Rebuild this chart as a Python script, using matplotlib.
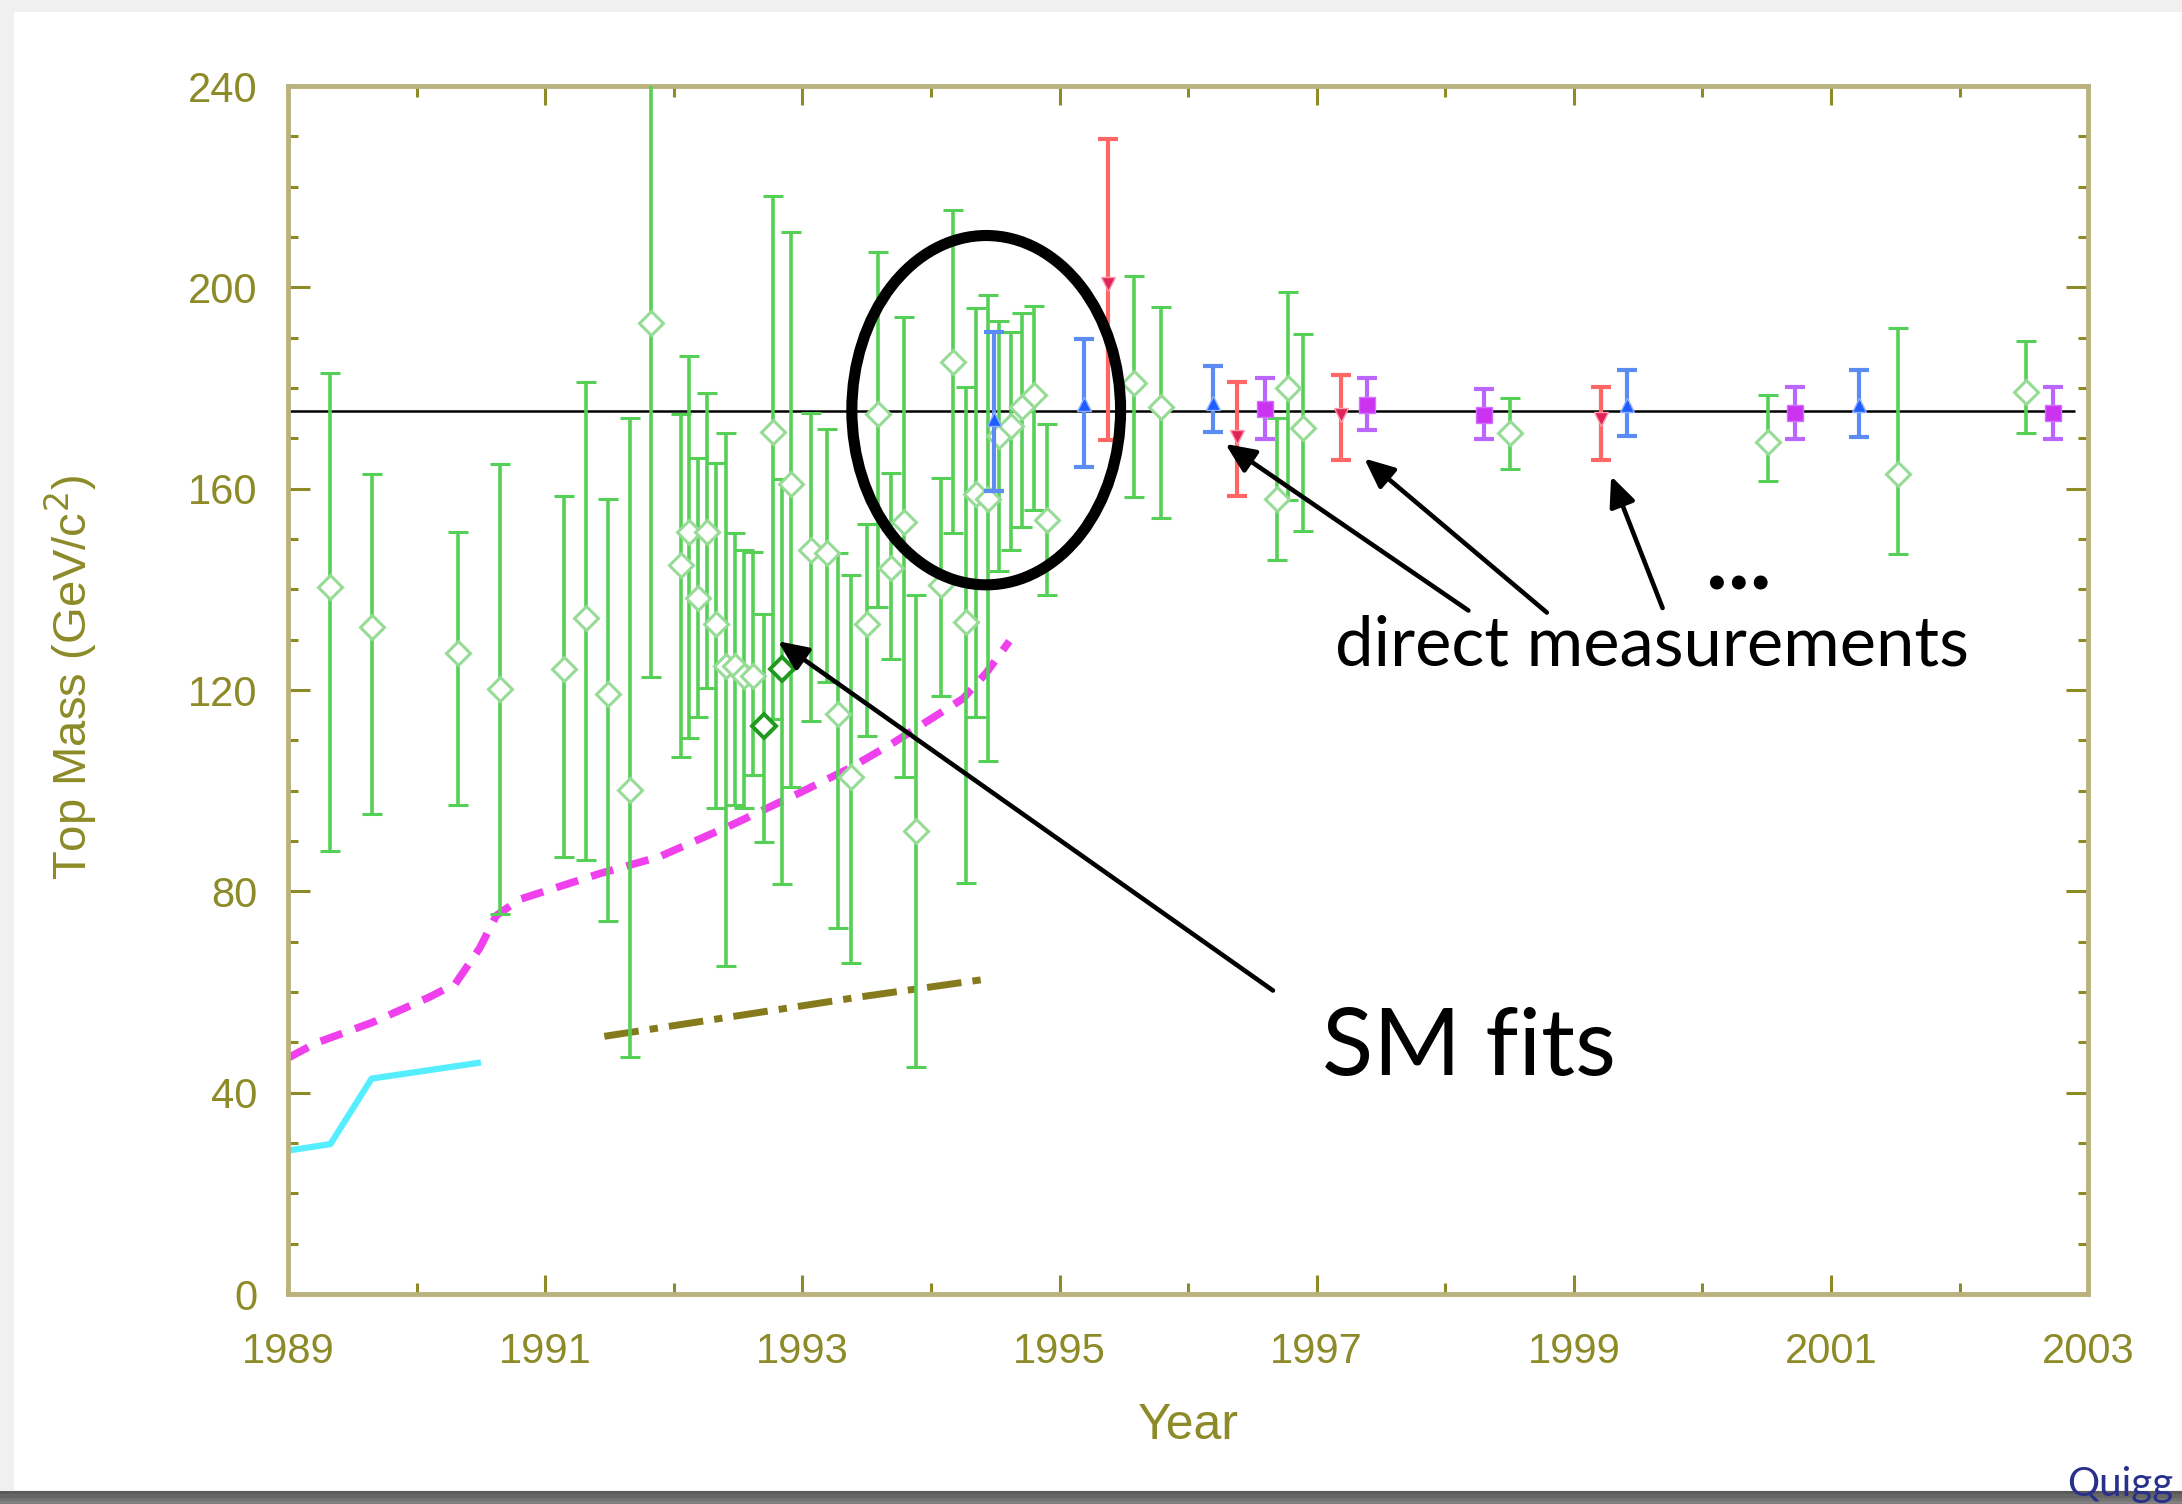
import numpy as np
import matplotlib.pyplot as plt
from matplotlib.patches import Ellipse, Rectangle

# SM fits: year, central value, upper and lower end of the error bar
fit_year = [1989.33, 1989.65, 1990.32, 1990.65, 1991.15, 1991.32, 1991.49, 1991.66,
            1991.82, 1992.06, 1992.12, 1992.19, 1992.26, 1992.33, 1992.41, 1992.48,
            1992.55, 1992.62, 1992.70, 1992.77, 1992.84, 1992.91, 1993.07, 1993.19,
            1993.28, 1993.38, 1993.50, 1993.59, 1993.69, 1993.79, 1993.88, 1994.08,
            1994.17, 1994.27, 1994.35, 1994.44, 1994.53, 1994.62, 1994.71, 1994.80,
            1994.90, 1995.58, 1995.79, 1996.69, 1996.78, 1996.89, 1998.50, 2000.51,
            2001.52, 2002.52]
fit_mass = [140.4, 132.5, 127.4, 120.3, 124.2, 134.4, 119.3, 100.2,
            192.9, 144.9, 151.4, 138.2, 151.4, 133.2, 124.8, 124.8,
            122.8, 122.8, 112.9, 171.3, 124.2, 161.0, 147.9, 147.2,
            115.3, 102.7, 133.2, 174.9, 144.3, 153.3, 91.9, 140.8,
            185.1, 133.6, 159.0, 158.0, 170.5, 172.4, 176.2, 178.7,
            153.7, 181.0, 176.3, 158.0, 180.1, 172.0, 171.1, 169.2,
            163.0, 179.3]
fit_hi = [183.0, 163.0, 151.3, 164.9, 158.5, 181.1, 157.9, 174.1,
          252.0, 174.9, 186.3, 166.1, 179.1, 165.2, 171.1, 151.2,
          147.9, 147.5, 135.1, 218.2, 162.0, 211.0, 175.0, 171.8,
          147.2, 142.8, 152.9, 207.0, 163.2, 194.2, 138.9, 162.2,
          215.3, 180.3, 195.9, 198.5, 193.4, 191.1, 195.0, 196.3,
          172.9, 202.2, 196.1, 174.1, 199.0, 190.8, 178.0, 178.6,
          192.0, 189.4]
fit_lo = [88.1, 95.3, 97.2, 75.6, 86.9, 86.2, 74.1, 47.1,
          122.5, 106.6, 110.4, 114.6, 120.4, 96.5, 65.1, 97.2,
          96.5, 103.1, 89.9, 114.3, 81.5, 100.8, 113.9, 121.6,
          72.8, 65.7, 110.8, 136.5, 126.1, 102.7, 45.1, 118.9,
          151.1, 81.6, 114.7, 105.9, 143.7, 147.9, 152.4, 155.8,
          138.9, 158.3, 154.1, 145.9, 157.8, 151.6, 163.9, 161.6,
          147.1, 171.0]

# two fits drawn with darker markers
hl_year = [1992.70, 1992.84]
hl_mass = [112.9, 124.2]

# direct measurements
blue_year = [1994.49, 1995.19, 1996.19, 1999.41, 2001.22]
blue_mass = [173.9, 176.8, 177.0, 176.7, 176.7]
blue_hi = [191.2, 189.8, 184.4, 183.5, 183.6]
blue_lo = [159.6, 164.3, 171.2, 170.4, 170.3]

red_year = [1995.38, 1996.38, 1997.19, 1999.21]
red_mass = [200.6, 170.3, 174.7, 173.8]
red_hi = [229.4, 181.2, 182.6, 180.3]
red_lo = [169.6, 158.5, 165.8, 165.8]

purple_year = [1996.60, 1997.39, 1998.30, 2000.72, 2002.73]
purple_mass = [175.8, 176.7, 174.7, 175.1, 175.1]
purple_hi = [181.9, 181.9, 179.8, 180.3, 180.3]
purple_lo = [169.8, 171.6, 169.8, 169.9, 169.8]

# lower bounds
cyan_year = [1989.0, 1989.33, 1989.65, 1990.50]
cyan_mass = [28.5, 29.8, 42.8, 46.0]

magenta_year = [1989.0, 1989.22, 1989.66, 1990.10, 1990.30, 1990.49, 1990.62, 1990.80,
                1991.42, 1991.89, 1992.46, 1992.98, 1993.37, 1993.70, 1994.25, 1994.43,
                1994.61]
magenta_mass = [46.9, 49.9, 54.0, 59.0, 61.6, 68.7, 75.2, 78.4,
                83.5, 86.9, 93.3, 99.6, 104.5, 109.4, 118.3, 123.4,
                129.7]

olive_year = [1991.46, 1993.44, 1994.41]
olive_mass = [51.2, 59.0, 62.5]

world_avg = 175.5

OLIVE = '#8d8a28'
FRAME = '#b9b27d'


def bars(ax, yr, m, hi, lo, **kw):
    m = np.array(m)
    err = [m - np.array(lo), np.array(hi) - m]
    ax.errorbar(yr, m, yerr=err, linestyle='none', **kw)


fig = plt.figure(figsize=(21.82, 15.04), dpi=100)
fig.patch.set_facecolor('#f0f0f0')
fig.add_artist(Rectangle((14 / 2182, 14 / 1504), 1 - 14 / 2182, 1 - 26 / 1504,
                         transform=fig.transFigure, facecolor='white',
                         edgecolor='none', zorder=0))
# dark strip at the bottom of the slide, a little lighter towards the edge
for i, c in enumerate(['#5a5a5a', '#666666', '#737373', '#808080']):
    fig.add_artist(Rectangle((0, (13 - 3.5 * (i + 1)) / 1504), 1, 3.6 / 1504,
                             transform=fig.transFigure, facecolor=c,
                             edgecolor='none', zorder=1))

ax = fig.add_axes([0.132, 0.1396, 0.825, 0.8032])
ax.set_facecolor('none')

ax.hlines(world_avg, 1989, 2002.9, color='black', lw=1.8, zorder=2)

ax.plot(cyan_year, cyan_mass, color='#55eeff', lw=4.5, solid_capstyle='butt')
ax.plot(magenta_year, magenta_mass, color='#f040ee', lw=5.5, dashes=(3.0, 1.8))
ax.plot(olive_year, olive_mass, color='#857a1c', lw=5, dashes=(5.0, 1.6, 1.2, 1.6))

bars(ax, fit_year, fit_mass, fit_hi, fit_lo, fmt='D', ms=12, mfc='white',
     mec='#96dc96', mew=2.2, ecolor='#55cf55', elinewidth=2.6, capsize=7,
     capthick=2.6, zorder=3)
ax.plot(hl_year, hl_mass, 'D', ms=12, mfc='white', mec='#1f9a1f', mew=2.8, zorder=4)

bars(ax, blue_year, blue_mass, blue_hi, blue_lo, fmt='^', ms=10, mfc='#1d5cff',
     mec='#8fb0ff', ecolor='#5b8cf4', elinewidth=3, capsize=7, capthick=3, zorder=5)
bars(ax, red_year, red_mass, red_hi, red_lo, fmt='v', ms=10, mfc='#e0245a',
     mec='#ff9aa8', ecolor='#ff6666', elinewidth=3, capsize=7, capthick=3, zorder=5)
bars(ax, purple_year, purple_mass, purple_hi, purple_lo, fmt='s', ms=12,
     mfc='#cc33f0', mec='#d070ff', ecolor='#bb66ff', elinewidth=3, capsize=7,
     capthick=3, zorder=5)

ax.set_xlim(1989, 2003)
ax.set_ylim(0, 240)
ax.set_xticks(np.arange(1989, 2004, 2))
ax.set_xticks(np.arange(1989, 2004, 1), minor=True)
ax.set_yticks(np.arange(0, 241, 40))
ax.set_yticks(np.arange(0, 241, 10), minor=True)

for s in ax.spines.values():
    s.set_color(FRAME)
    s.set_linewidth(3.5)

ax.tick_params(which='both', direction='in', top=True, right=True, color=OLIVE,
               width=2.2, labelcolor=OLIVE, labelsize=30)
ax.tick_params(axis='x', which='major', length=14, pad=27)
ax.tick_params(axis='x', which='minor', length=8)
ax.tick_params(axis='y', which='major', length=16, pad=22)
ax.tick_params(axis='y', which='minor', length=7)
for lab in ax.get_xticklabels() + ax.get_yticklabels():
    lab.set_family('Liberation Sans')

ax.set_ylabel('Top Mass (GeV/c$^2$)', fontsize=34, color=OLIVE,
              family='Liberation Sans')
ax.yaxis.set_label_coords(-0.105, 0.51)
ax.set_xlabel('Year', fontsize=36, color=OLIVE, family='Liberation Sans')
ax.xaxis.set_label_coords(0.5, -0.09)

# annotations
ax.add_patch(Ellipse((1994.43, 175.6), 2.09, 69.4, fill=False, lw=8,
                     edgecolor='black', zorder=6, clip_on=False))

arrow = dict(arrowstyle='-|>,head_length=0.45,head_width=0.2', lw=3.3,
             color='black', shrinkA=0, shrinkB=0, mutation_scale=40)
ax.annotate('', xy=(1992.81, 129.7), xytext=(1996.66, 60.3), arrowprops=arrow,
            zorder=7)
ax.annotate('', xy=(1996.29, 168.9), xytext=(1998.18, 135.8), arrowprops=arrow,
            zorder=7)
ax.annotate('', xy=(1997.37, 166.0), xytext=(1998.79, 135.4), arrowprops=arrow,
            zorder=7)
ax.annotate('', xy=(1999.29, 162.5), xytext=(1999.69, 136.3), arrowprops=arrow,
            zorder=7)

ax.text(1997.04, 43.6, 'SM fits', fontsize=68, family='Lato', color='black',
        va='baseline', ha='left')
ax.text(1997.14, 124.8, 'direct measurements', fontsize=49.5, family='Lato',
        color='black', va='baseline', ha='left')
ax.text(2000.03, 140.0, '...', fontsize=66, family='Lato', fontweight='bold',
        color='black', va='baseline', ha='left')

fig.text(2067 / 2182, 1 - 1496 / 1504, 'Quigg', fontsize=29, family='Lato',
         color='#28308c', va='baseline', ha='left', zorder=10)

fig.savefig('out.png', dpi=100)
